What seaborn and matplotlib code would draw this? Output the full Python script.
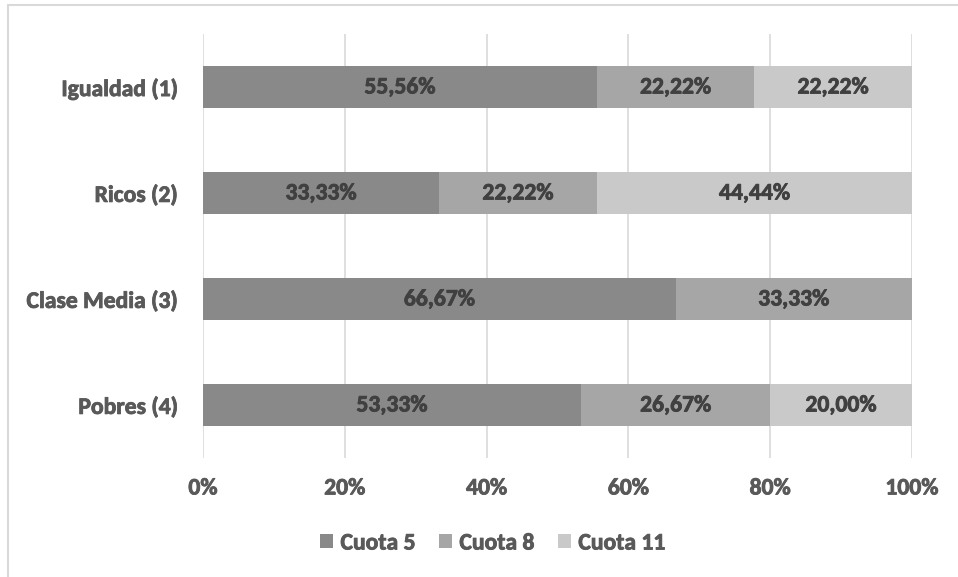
import matplotlib
matplotlib.use("Agg")
import matplotlib.pyplot as plt
from matplotlib.patches import Rectangle, Patch
from matplotlib import font_manager as fm
import matplotlib.patheffects as pe
import numpy as np
import pandas as pd
import seaborn as sns

categories = ["Igualdad (1)", "Ricos (2)", "Clase Media (3)", "Pobres (4)"]
series_names = ["Cuota 5", "Cuota 8", "Cuota 11"]
cuota5 = [55.56, 33.33, 66.67, 53.33]
cuota8 = [22.22, 22.22, 33.33, 26.67]
cuota11 = [22.22, 44.44, 0.0, 20.00]
colors = ["#898989", "#a6a6a6", "#c9c9c9"]
axis_text_color = "#595959"
label_text_color = "#404040"
xticks = [0, 20, 40, 60, 80, 100]

sns.set_theme(style="white")
FS = 17

# Bold Carlito face, loaded straight from its file
bold_files = [f.fname for f in fm.fontManager.ttflist
              if f.name == "Carlito" and f.weight in (700, "bold") and f.style == "normal"]
if bold_files:
    fp = fm.FontProperties(fname=bold_files[0], size=FS)
else:
    fp = fm.FontProperties(family="Carlito", weight="bold", size=FS)


def heavy(color):
    return [pe.withStroke(linewidth=0.6, foreground=color)]


fig = plt.figure(figsize=(9.58, 5.77), dpi=100)
ax = fig.add_axes([203 / 958, 1 - 458 / 577, (912 - 203) / 958, (458 - 34) / 577])

values = [cuota5, cuota8, cuota11]
cums = np.cumsum(np.array(values), axis=0)

# Stacked bars: draw cumulative totals from the outermost segment inward
for i in reversed(range(3)):
    df = pd.DataFrame({"cat": categories, "val": cums[i]})
    sns.barplot(data=df, y="cat", x="val", orient="h", color=colors[i],
                saturation=1, width=0.4, ax=ax, zorder=3, linewidth=0)

# Value labels centred in each segment
for i in range(3):
    starts = cums[i] - np.array(values[i])
    for j, v in enumerate(values[i]):
        if v <= 0:
            continue
        ax.text(starts[j] + v / 2, j, f"{v:.2f}%".replace(".", ","),
                ha="center", va="center", fontproperties=fp,
                color=label_text_color, zorder=5,
                path_effects=heavy(label_text_color))

ax.set_xlim(0, 100)
ax.set_ylim(3.5, -0.5)
ax.set_xticks(xticks)
ax.set_xticklabels([f"{t}%" for t in xticks])
ax.xaxis.grid(True, color="#d9d9d9", linewidth=1.2, zorder=0)
ax.yaxis.grid(False)
ax.set_xlabel("")
ax.set_ylabel("")
for s in ax.spines.values():
    s.set_visible(False)
ax.tick_params(axis="both", length=0, colors=axis_text_color)
ax.tick_params(axis="x", pad=14)
ax.tick_params(axis="y", pad=18)
for lab in ax.get_xticklabels() + ax.get_yticklabels():
    lab.set_fontproperties(fp)
    lab.set_color(axis_text_color)
    lab.set_path_effects(heavy(axis_text_color))

# Legend below the plot
handles = [Patch(facecolor=c, edgecolor="none") for c in colors]
leg = fig.legend(handles, series_names, loc="center", bbox_to_anchor=(493 / 958, 1 - 543 / 577),
                 ncol=3, frameon=False, handlelength=0.55, handleheight=0.55,
                 handletextpad=0.3, columnspacing=1.0, prop=fp)
for t in leg.get_texts():
    t.set_color(axis_text_color)
    t.set_path_effects(heavy(axis_text_color))

# Outer chart frame
fig.patches.append(Rectangle((8 / 958, -0.1), 1.2, 1 - 5 / 577 + 0.1,
                             transform=fig.transFigure, fill=False,
                             edgecolor="#d9d9d9", linewidth=1.5))

fig.savefig("out.png", dpi=100)
